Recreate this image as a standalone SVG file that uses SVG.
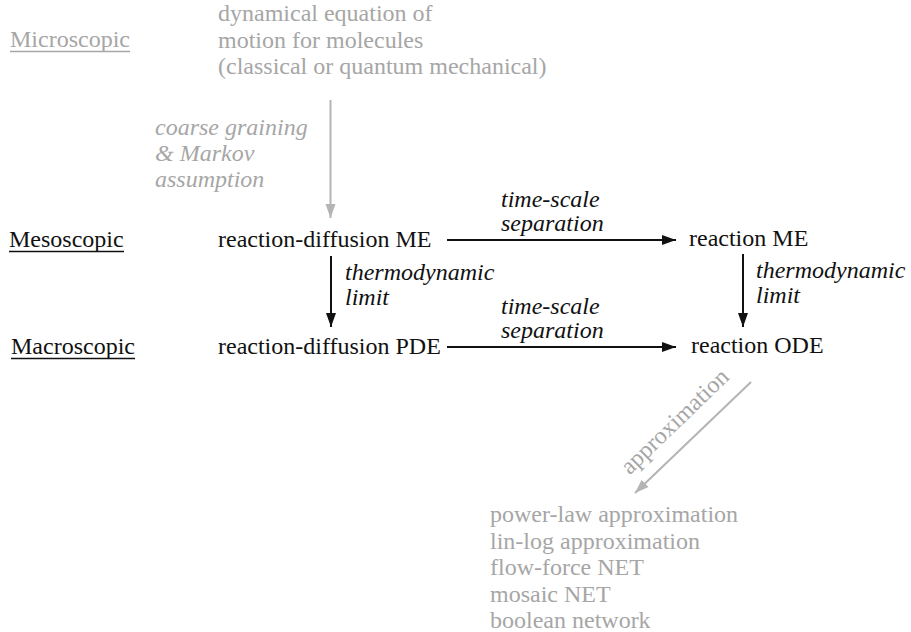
<svg xmlns="http://www.w3.org/2000/svg" width="911" height="632" viewBox="0 0 911 632" font-family="'Liberation Serif', 'Times New Roman', Times, 'DejaVu Serif', serif" font-size="24">
  <defs>
    <style>
      text { font-family: 'Liberation Serif', 'Times New Roman', Times, 'DejaVu Serif', serif; font-size: 24px; }
      .dark { fill: #111111; }
      .grey { fill: #a6a6a6; }
      .it { font-style: italic; }
      .ul-dark { stroke: #111111; stroke-width: 1.3; }
      .ul-grey { stroke: #a6a6a6; stroke-width: 1.3; }
      .edge-dark { stroke: #111111; stroke-width: 2; fill: none; }
      .edge-grey { stroke: #b4b4b4; stroke-width: 2; fill: none; }
    </style>
    <marker id="head-dark" markerUnits="userSpaceOnUse" markerWidth="16" markerHeight="12" refX="14" refY="6" orient="auto">
      <path d="M0,1 L14,6 L0,11 Z" fill="#111111"/>
    </marker>
    <marker id="head-grey" markerUnits="userSpaceOnUse" markerWidth="16" markerHeight="12" refX="14" refY="6" orient="auto">
      <path d="M0,1 L14,6 L0,11 Z" fill="#b4b4b4"/>
    </marker>
  </defs>

  <rect width="911" height="632" fill="#ffffff"/>

  <!-- level labels -->
  <g id="level-micro">
    <text class="grey" x="10" y="47">Microscopic</text>
    <line class="ul-grey" x1="10" y1="51.5" x2="130" y2="51.5"/>
  </g>
  <g id="level-meso">
    <text class="dark" x="9" y="247">Mesoscopic</text>
    <line class="ul-dark" x1="9" y1="251.5" x2="124" y2="251.5"/>
  </g>
  <g id="level-macro">
    <text class="dark" x="11" y="354">Macroscopic</text>
    <line class="ul-dark" x1="11" y1="358.5" x2="135" y2="358.5"/>
  </g>

  <!-- nodes -->
  <g id="node-molecular">
    <text class="grey" x="218" y="21">dynamical equation of</text>
    <text class="grey" x="218" y="47.5">motion for molecules</text>
    <text class="grey" x="218" y="74">(classical or quantum mechanical)</text>
  </g>
  <g id="node-rd-me">
    <text class="dark" x="218" y="247">reaction-diffusion ME</text>
  </g>
  <g id="node-r-me">
    <text class="dark" x="689" y="246">reaction ME</text>
  </g>
  <g id="node-rd-pde">
    <text class="dark" x="218" y="354">reaction-diffusion PDE</text>
  </g>
  <g id="node-r-ode">
    <text class="dark" x="691" y="353">reaction ODE</text>
  </g>
  <g id="node-approx">
    <text class="grey" x="490" y="522">power-law approximation</text>
    <text class="grey" x="490" y="549">lin-log approximation</text>
    <text class="grey" x="490" y="575">flow-force NET</text>
    <text class="grey" x="490" y="602">mosaic NET</text>
    <text class="grey" x="490" y="628">boolean network</text>
  </g>

  <!-- connectors -->
  <g id="connectors">
    <line class="edge-grey" x1="330.5" y1="100" x2="330.5" y2="218" marker-end="url(#head-grey)"/>
    <line class="edge-dark" x1="447" y1="240" x2="676" y2="240" marker-end="url(#head-dark)"/>
    <line class="edge-dark" x1="447" y1="347" x2="676" y2="347" marker-end="url(#head-dark)"/>
    <line class="edge-dark" x1="331" y1="256" x2="331" y2="327" marker-end="url(#head-dark)"/>
    <line class="edge-dark" x1="743" y1="254" x2="743" y2="327" marker-end="url(#head-dark)"/>
    <line class="edge-grey" x1="751" y1="382" x2="635" y2="493" marker-end="url(#head-grey)"/>

    <text class="grey it" x="155" y="135">coarse graining</text>
    <text class="grey it" x="155" y="161">&amp; Markov</text>
    <text class="grey it" x="155" y="187">assumption</text>

    <text class="dark it" x="501" y="207">time-scale</text>
    <text class="dark it" x="501" y="231">separation</text>
    <text class="dark it" x="501" y="314">time-scale</text>
    <text class="dark it" x="501" y="338">separation</text>

    <text class="dark it" x="345" y="280">thermodynamic</text>
    <text class="dark it" x="345" y="305">limit</text>
    <text class="dark it" x="756" y="278">thermodynamic</text>
    <text class="dark it" x="756" y="303">limit</text>

    <text class="grey" transform="translate(680 427) rotate(-44)" text-anchor="middle">approximation</text>
  </g>
</svg>
